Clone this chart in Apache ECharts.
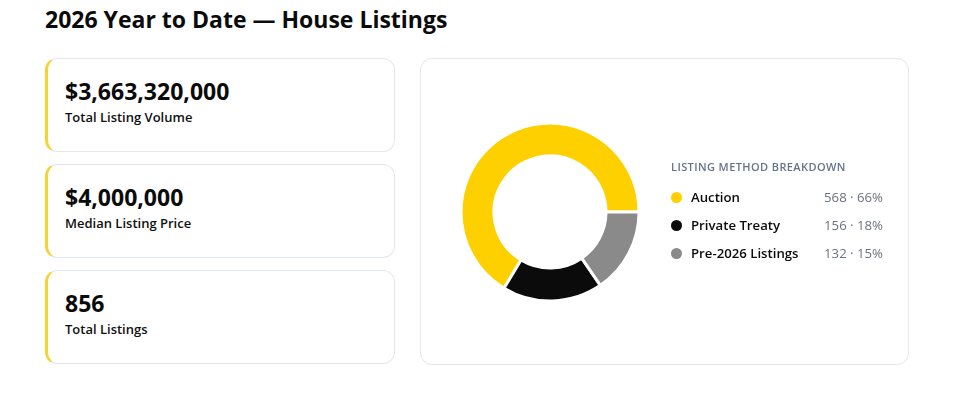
<!DOCTYPE html>
<html>
<head>
<meta charset="utf-8">
<script src="https://cdn.jsdelivr.net/npm/echarts@6/dist/echarts.min.js"></script>
<style>
  html, body { margin: 0; padding: 0; background: #fff; }
  body { width: 969px; height: 396px; position: relative; font-family: "Open Sans", "Noto Sans", sans-serif; color: #0b0b0b; overflow: hidden; }
  h1 { position: absolute; left: 45px; top: 4px; margin: 0; font-size: 23px; font-weight: 700; line-height: 30px; letter-spacing: 0; }
  .kpi { position: absolute; left: 45px; width: 346px; height: 92px; border: 1px solid #e2e8f0; border-left: 3px solid #f7d234; border-radius: 12px; box-sizing: content-box; }
  .kpi .val { position: absolute; left: 17px; top: 17px; font-size: 23px; font-weight: 700; line-height: 30px; }
  .kpi .lbl { position: absolute; left: 17px; top: 49px; font-size: 13px; font-weight: 600; line-height: 18px; color: #111; }
  #panel { position: absolute; left: 420px; top: 58px; width: 487px; height: 305px; border: 1px solid #e2e8f0; border-radius: 12px; }
  #donut { position: absolute; left: 0; top: 0; width: 260px; height: 305px; }
  #legend { position: absolute; left: 250px; top: 101px; width: 212px; }
  #legend .ttl { font-size: 11px; font-weight: 600; color: #64748b; letter-spacing: 0.4px; line-height: 14px; margin-bottom: 13px; }
  #legend .row { display: flex; align-items: center; height: 20px; margin-bottom: 8px; font-size: 13.2px; }
  #legend .dot { width: 11px; height: 11px; border-radius: 50%; margin-left: 0; margin-right: 9px; }
  #legend .name { font-weight: 600; color: #0b0b0b; flex: 1; }
  #legend .num { color: #6b7280; }
</style>
</head>
<body>
<h1>2026 Year to Date — House Listings</h1>
<div id="kpis"></div>
<div id="panel">
  <div id="donut"></div>
  <div id="legend"><div class="ttl">LISTING METHOD BREAKDOWN</div></div>
</div>
<script>
const kpiValues = ['$3,663,320,000', '$4,000,000', '856'];
const kpiLabels = ['Total Listing Volume', 'Median Listing Price', 'Total Listings'];

const methods = ['Auction', 'Private Treaty', 'Pre-2026 Listings'];
const counts = [568, 156, 132];
const colors = ['#ffd000', '#0b0b0b', '#8a8a8a'];

const kpiBox = document.getElementById('kpis');
kpiValues.forEach((v, i) => {
  const d = document.createElement('div');
  d.className = 'kpi';
  d.style.top = (58 + i * 106) + 'px';
  d.innerHTML = '<div class="val">' + v + '</div><div class="lbl">' + kpiLabels[i] + '</div>';
  kpiBox.appendChild(d);
});

const total = counts.reduce((a, b) => a + b, 0);
const legend = document.getElementById('legend');
methods.forEach((m, i) => {
  const r = document.createElement('div');
  r.className = 'row';
  r.innerHTML = '<span class="dot" style="background:' + colors[i] + '"></span>' +
    '<span class="name">' + m + '</span>' +
    '<span class="num">' + counts[i] + ' · ' + Math.round(counts[i] / total * 100) + '%</span>';
  legend.appendChild(r);
});

const chart = echarts.init(document.getElementById('donut'));
chart.setOption({
  animation: false,
  series: [{
    type: 'pie',
    center: [129, 153],
    radius: [56, 89],
    startAngle: 0,
    clockwise: false,
    label: { show: false },
    labelLine: { show: false },
    itemStyle: { borderColor: '#fff', borderWidth: 3 },
    emphasis: { disabled: true },
    data: methods.map((m, i) => ({ name: m, value: counts[i], itemStyle: { color: colors[i] } }))
  }]
});
</script>
</body>
</html>
